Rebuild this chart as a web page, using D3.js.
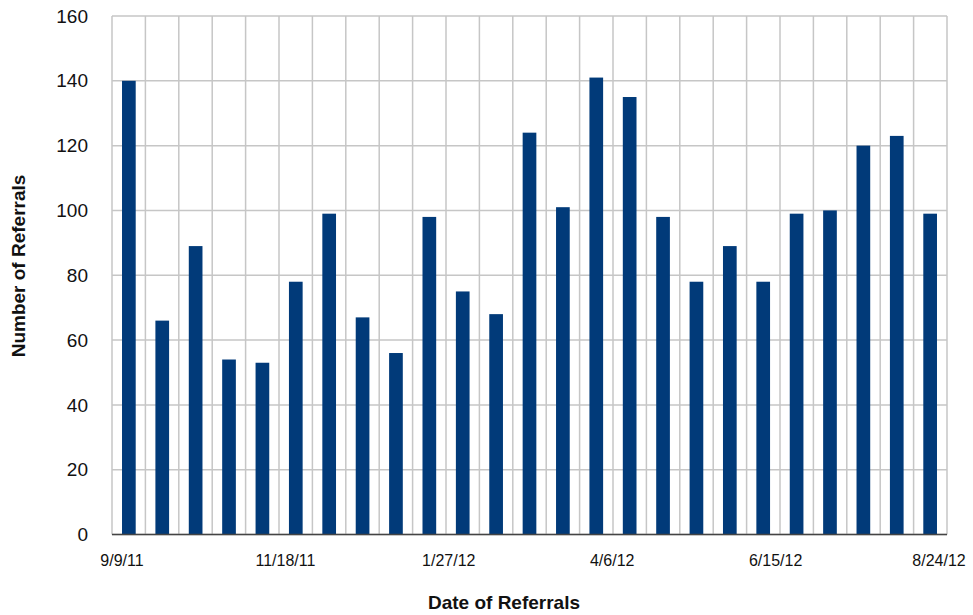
<!DOCTYPE html>
<html lang="en">
<head>
<meta charset="UTF-8" />
<script src="https://d3js.org/d3.v7.min.js"></script>
<title>Referrals</title>
<style>
  body { margin: 0; background: #fff; }
  text { font-family: "Liberation Sans", Arial, Helvetica, sans-serif; fill: #111; }
</style>
</head>
<body>
<script type="text/javascript">
// two-week periods, first one starting 9/9/11
var periods = d3.range(25);
var referrals = [140, 66, 89, 54, 53, 78, 99, 67, 56, 98, 75, 68, 124, 101, 141, 135, 98, 78, 89, 78, 99, 100, 120, 123, 99];
var dateLabels = ["9/9/11", "11/18/11", "1/27/12", "4/6/12", "6/15/12", "8/24/12"];
var labelIndex = [0, 5, 10, 15, 20, 25];
var yTicks = [0, 20, 40, 60, 80, 100, 120, 140, 160];

var width = 973, height = 615;
var plotL = 112, plotR = 947, plotT = 16, plotB = 534.5;

var svg = d3.select("body").append("svg").attr("width", width).attr("height", height);

var cells = d3.scaleBand().domain(periods).range([plotL, plotR]).padding(0);
var bars = d3.scaleBand().domain(periods).range([plotL, plotR]).paddingInner(0.59).paddingOuter(0.3);
var y = d3.scaleLinear().domain([0, 160]).range([plotB, plotT]);
var labelX = d3.scaleLinear().domain([0, 25]).range([plotL + 10, plotR - 8]);

// grid
svg.append("g").selectAll("line").data(yTicks).enter().append("line")
  .attr("x1", plotL).attr("x2", plotR)
  .attr("y1", function(d){ return y(d); }).attr("y2", function(d){ return y(d); })
  .attr("stroke", "#c6c6c6").attr("stroke-width", 1.5);
svg.append("g").selectAll("line").data(d3.range(26)).enter().append("line")
  .attr("x1", function(d){ return plotL + d * cells.step(); })
  .attr("x2", function(d){ return plotL + d * cells.step(); })
  .attr("y1", plotT).attr("y2", plotB)
  .attr("stroke", "#c6c6c6").attr("stroke-width", 1.5);

// bars
svg.append("g").selectAll("rect").data(referrals).enter().append("rect")
  .attr("x", function(d, i){ return bars(i); })
  .attr("width", bars.bandwidth())
  .attr("y", function(d){ return y(d); })
  .attr("height", function(d){ return y(0) - y(d); })
  .attr("fill", "#013a79");

// baseline
svg.append("line").attr("x1", plotL).attr("x2", plotR)
  .attr("y1", plotB).attr("y2", plotB)
  .attr("stroke", "#444").attr("stroke-width", 1.5);

// y tick labels
svg.append("g").selectAll("text").data(yTicks).enter().append("text")
  .attr("x", 88).attr("y", function(d){ return y(d); })
  .attr("dy", "0.35em").attr("text-anchor", "end")
  .style("font-size", "19px")
  .text(function(d){ return d; });

// x tick labels
svg.append("g").selectAll("text").data(dateLabels).enter().append("text")
  .attr("x", function(d, i){ return labelX(labelIndex[i]); })
  .attr("y", 566).attr("text-anchor", "middle")
  .style("font-size", "16px")
  .text(function(d){ return d; });

// axis titles
svg.append("text").attr("x", 504).attr("y", 609).attr("text-anchor", "middle")
  .style("font-size", "19px").style("font-weight", "bold")
  .text("Date of Referrals");
svg.append("text").attr("transform", "translate(25,266) rotate(-90)")
  .attr("text-anchor", "middle")
  .style("font-size", "19px").style("font-weight", "bold")
  .text("Number of Referrals");
</script>
</body>
</html>
